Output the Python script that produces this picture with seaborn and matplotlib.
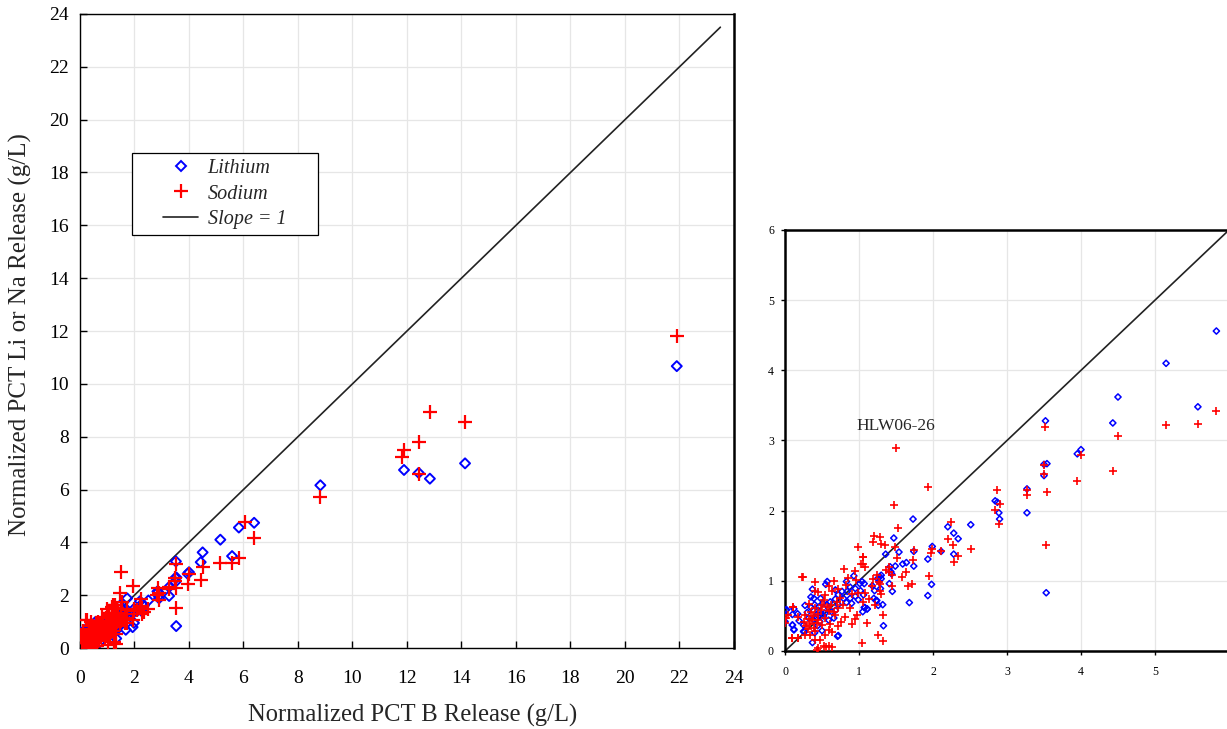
import matplotlib
matplotlib.use("Agg")
import matplotlib.pyplot as plt
from matplotlib.lines import Line2D
from matplotlib.legend_handler import HandlerLine2D
import seaborn as sns

# ---------------- data ----------------
li_x = [21.9, 14.13, 12.84, 12.43, 11.89, 8.82, 6.39,
        5.83, 5.58, 5.15, 4.50, 4.43, 4.00, 3.95, 3.52, 3.54, 3.50, 3.50, 3.53, 3.27, 3.27,
        2.84, 2.87, 2.89, 2.90, 2.51, 2.20, 2.28, 2.34, 2.28, 2.11, 1.99, 1.93, 1.98, 1.93,
        1.73, 1.74, 1.74, 1.68, 1.59, 1.64, 1.54, 1.47, 1.49, 1.45, 1.42, 1.41, 1.36, 1.33,
        1.11, 1.07, 1.05, 1.26, 1.24, 1.04, 0.71, 0.01, 0.12, 0.00, 0.10, 0.12,
        1.30, 1.25, 1.29, 1.21, 1.18, 1.23, 1.20, 1.32, 1.43, 1.44, 1.28, 1.30, 1.27,
        0.93, 0.83, 0.88, 0.95, 1.01, 1.07, 1.02, 0.95, 0.99, 1.06, 1.08, 1.11,
        0.79, 0.77, 0.68, 0.57, 0.55, 0.37, 0.35, 0.39, 0.27, 0.02, 0.10, 0.17, 0.19, 0.10,
        0.12, 0.25, 0.25, 0.40, 0.50, 0.37, 0.72, 0.54, 0.45, 0.51, 0.61, 0.68, 0.72, 0.83,
        0.90, 0.66, 0.59, 0.47, 0.32, 0.43, 0.40, 0.68, 0.59, 0.72, 0.84, 0.88, 0.48, 0.26,
        0.30, 0.35, 0.42, 0.46, 0.52, 0.56, 0.63, 0.38, 0.44, 0.50]
li_y = [10.67, 6.99, 6.41, 6.63, 6.74, 6.16, 4.74,
        4.56, 3.48, 4.10, 3.62, 3.25, 2.87, 2.81, 3.28, 2.67, 2.66, 2.50, 0.83, 2.31, 1.97,
        2.14, 2.12, 1.97, 1.88, 1.80, 1.77, 1.68, 1.60, 1.38, 1.42, 1.49, 1.31, 0.95, 0.79,
        1.88, 1.42, 1.21, 0.69, 1.24, 1.26, 1.41, 1.61, 1.21, 0.85, 1.20, 0.96, 1.38, 0.36,
        0.60, 0.62, 0.56, 0.65, 0.72, 0.99, 0.21, 0.58, 0.60, 0.42, 0.37, 0.31,
        1.08, 1.03, 0.89, 0.86, 0.93, 0.72, 0.75, 0.66, 1.13, 1.10, 1.06, 1.03, 0.99,
        1.07, 0.99, 0.91, 0.89, 0.96, 0.96, 0.86, 0.78, 0.73, 0.80, 0.62, 0.60,
        0.75, 0.85, 0.87, 0.99, 0.95, 0.88, 0.77, 0.75, 0.65, 0.59, 0.52, 0.53, 0.43, 0.37,
        0.30, 0.37, 0.28, 0.26, 0.29, 0.12, 0.22, 0.54, 0.58, 0.68, 0.70, 0.74, 0.66, 0.69,
        0.68, 0.47, 0.44, 0.42, 0.47, 0.52, 0.66, 0.58, 0.61, 0.80, 0.85, 0.75, 0.75, 0.27,
        0.55, 0.62, 0.48, 0.63, 0.50, 0.66, 0.56, 0.45, 0.36, 0.52]

na_x = [21.9, 14.13, 12.84, 12.43, 12.43, 11.89, 11.82, 8.82, 6.39, 6.06,
        5.83, 5.58, 5.15, 4.50, 3.52, 4.43, 4.00, 3.95, 3.50, 3.50, 3.54, 3.53, 3.27, 3.27,
        2.87, 2.90, 2.84, 2.89, 2.51, 2.24, 2.20, 2.27, 2.34, 2.28, 2.11, 1.99, 1.97, 1.94,
        1.93, 1.74, 1.73, 1.71, 1.66, 1.64, 1.58, 1.53, 1.50, 1.47, 1.51, 1.49, 1.45, 1.35,
        1.30, 1.20, 1.19, 1.28, 1.33, 1.26, 1.33, 1.11, 0.99, 1.05, 1.03, 1.08, 0.24, 0.11,
        0.00, 0.10, 0.18, 0.63, 0.55, 0.44,
        1.24, 1.19, 1.28, 1.30, 1.40, 1.41, 1.44, 1.37,
        1.05, 1.06, 0.80, 0.95, 0.85, 0.66, 0.59, 0.40, 0.23, 0.45, 0.72, 0.83, 0.96, 1.17,
        1.27, 1.28, 1.13, 1.05, 0.97, 0.95, 0.91, 1.04, 0.59, 0.53, 0.43, 0.18, 0.09, 0.11,
        0.18, 0.40, 0.32, 0.27, 0.34, 0.41, 0.54, 0.47, 0.64, 0.71, 0.76, 0.81, 0.68, 0.59,
        0.50, 0.54, 0.63, 0.79, 0.88, 0.70, 0.31, 0.36, 0.45, 0.50, 0.61, 0.25, 0.45, 0.54,
        0.62, 0.71, 0.74, 0.90, 0.99, 1.08, 1.22, 0.01, 0.04, 0.40, 0.34, 0.27, 0.59, 0.41,
        0.35, 0.38, 0.48, 0.57, 0.66, 0.33, 0.43, 0.52, 0.29, 0.39]
na_y = [11.81, 8.55, 8.93, 7.78, 6.60, 7.49, 7.24, 5.70, 4.15, 4.76,
        3.42, 3.23, 3.22, 3.06, 3.19, 2.56, 2.80, 2.42, 2.65, 2.52, 2.26, 1.51, 2.30, 2.22,
        2.29, 2.09, 2.01, 1.81, 1.46, 1.84, 1.60, 1.51, 1.35, 1.27, 1.43, 1.46, 1.40, 1.07,
        2.34, 1.44, 1.29, 0.95, 0.93, 1.12, 1.05, 1.76, 2.89, 2.08, 1.32, 1.48, 0.92, 1.51,
        1.52, 1.64, 1.55, 1.62, 0.52, 0.23, 0.14, 0.40, 1.48, 1.34, 1.24, 1.19, 1.06, 0.63,
        0.40, 0.19, 0.19, 0.06, 0.06, 0.04,
        1.08, 1.03, 0.96, 0.81, 1.20, 1.13, 1.09, 1.15,
        1.34, 1.24, 1.17, 1.14, 1.04, 1.00, 0.92, 0.99, 1.05, 0.84, 0.89, 0.94, 1.01, 0.93,
        0.99, 0.86, 0.74, 0.70, 0.52, 0.45, 0.38, 0.11, 0.07, 0.07, 0.02, 0.18, 0.18, 0.63,
        0.49, 0.85, 0.67, 0.51, 0.38, 0.28, 0.23, 0.16, 0.27, 0.35, 0.42, 0.48, 0.52, 0.57,
        0.66, 0.80, 0.85, 0.66, 0.61, 0.70, 0.32, 0.44, 0.44, 0.37, 0.39, 0.42, 0.53, 0.47,
        0.66, 0.61, 0.75, 0.81, 0.83, 0.83, 0.66, 0.47, 0.51, 0.16, 0.23, 0.23, 0.30, 0.61,
        0.56, 0.50, 0.58, 0.62, 0.55, 0.45, 0.40, 0.72, 0.36, 0.33]

slope_main = [0, 23.5]
slope_inset = [0, 6.2]

main_ticks = list(range(0, 25, 2))
inset_ticks = list(range(0, 7))
inset_xticklabels = ['0', '1', '2', '3', '4', '5', '']
inset_yticklabels = ['0', '1', '2', '3', '4', '5', '6']

x_label = "Normalized PCT B Release (g/L)"
y_label = "Normalized PCT Li or Na Release (g/L)"
annot_text = "HLW06-26"
legend_labels = ["Lithium", "Sodium", "Slope = 1"]

# ---------------- style ----------------
sns.set_theme(style="whitegrid")
plt.rcParams['font.family'] = ['Liberation Serif', 'DejaVu Serif']
plt.rcParams['axes.edgecolor'] = 'black'
plt.rcParams['grid.color'] = '#e6e6e6'
plt.rcParams['grid.linewidth'] = 0.9

LI_COLOR = '#0000ff'
NA_COLOR = '#ff0000'

fig = plt.figure(figsize=(12.27, 7.29), dpi=100)


def draw(ax, msize_li, msize_na, lw_li, lw_na, slope):
    sns.lineplot(x=slope, y=slope, ax=ax, color='#222222', linewidth=1.2, zorder=2)
    sns.scatterplot(x=li_x, y=li_y, ax=ax, marker='D', s=msize_li, zorder=3)
    coll = ax.collections[-1]
    coll.set_facecolor('none')
    coll.set_edgecolor(LI_COLOR)
    coll.set_linewidth(lw_li)
    sns.scatterplot(x=na_x, y=na_y, ax=ax, marker='+', s=msize_na, color=NA_COLOR,
                    linewidth=lw_na, zorder=4)
    ax.set_axisbelow(True)


# ---- main panel ----
ax = fig.add_axes([0.0652, 0.1111, 0.5330, 0.8697])
draw(ax, 26, 110, 1.4, 1.6, slope_main)
ax.set_xlim(0, 24)
ax.set_ylim(0, 24)
ax.set_xticks(main_ticks)
ax.set_yticks(main_ticks)
ax.tick_params(axis='both', labelsize=14, direction='in', length=5, width=1,
               bottom=True, left=True, colors='black')
ax.tick_params(axis='x', pad=16)
ax.tick_params(axis='y', pad=8)
for s in ax.spines.values():
    s.set_color('black')
    s.set_linewidth(1.0)
ax.spines['right'].set_linewidth(1.8)
ax.set_xlabel(x_label, fontsize=17.7, labelpad=12)
ax.set_ylabel(y_label, fontsize=18, labelpad=12)
ax.xaxis.label.set_x(0.509)
ax.yaxis.label.set_y(0.494)

handles = [
    Line2D([], [], marker='D', linestyle='none', markerfacecolor='none',
           markeredgecolor=LI_COLOR, markeredgewidth=1.4, markersize=5),
    Line2D([], [], marker='+', linestyle='none', color=NA_COLOR,
           markeredgewidth=1.6, markersize=10),
    Line2D([], [], color='#222222', linewidth=1.2),
]
hmap = {h: HandlerLine2D(xpad=1.25) for h in handles}
leg = ax.legend(handles, legend_labels, loc='upper left',
                bbox_to_anchor=(0.0795, 0.781 - 0.125, 0.2844, 0.125),
                mode='expand', borderaxespad=0,
                prop={'style': 'italic', 'size': 14.5}, frameon=True,
                fancybox=False, shadow=False, handlelength=3.0,
                handletextpad=0.45, borderpad=0.3, labelspacing=0.32,
                handler_map=hmap)
leg.get_frame().set_edgecolor('black')
leg.get_frame().set_linewidth(0.9)
leg.get_frame().set_alpha(1)

# ---- inset panel ----
ax2 = fig.add_axes([0.6398, 0.107, 0.3618, 0.5775])
draw(ax2, 10, 36, 1.1, 1.2, slope_inset)
ax2.set_xlim(0, 6)
ax2.set_ylim(0, 6)
ax2.set_xticks(inset_ticks)
ax2.set_xticklabels(inset_xticklabels)
ax2.set_yticks(inset_ticks)
ax2.set_yticklabels(inset_yticklabels)
ax2.tick_params(axis='both', labelsize=8.5, direction='out', length=3, width=1,
                bottom=True, left=True, colors='black')
ax2.tick_params(axis='x', pad=8)
ax2.tick_params(axis='y', pad=5)
for s in ax2.spines.values():
    s.set_color('black')
    s.set_linewidth(1.0)
ax2.spines['left'].set_linewidth(1.8)
ax2.spines['top'].set_linewidth(1.8)
ax2.spines['bottom'].set_linewidth(1.8)
ax2.set_xlabel('')
ax2.set_ylabel('')
ax2.text(0.97, 3.2, annot_text, fontsize=12.5, ha='left', va='center')

fig.savefig('out.png', dpi=100)
